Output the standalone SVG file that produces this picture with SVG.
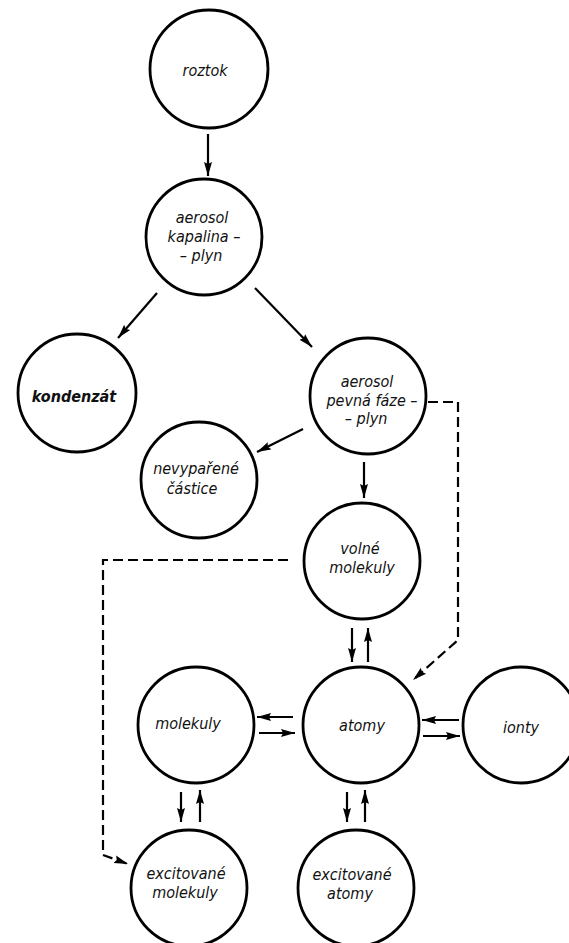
<svg xmlns="http://www.w3.org/2000/svg" width="569" height="943" viewBox="0 0 569 943">
<defs>
<marker id="ah" markerUnits="userSpaceOnUse" markerWidth="15" markerHeight="10" refX="14" refY="5" orient="auto">
<path d="M0,1 L14,5 L0,9 L2,5 Z" fill="#000"/>
</marker>
<style>
.n{fill:#fff;stroke:#000;stroke-width:2.8}
.t{font-family:"DejaVu Sans Condensed","DejaVu Sans",sans-serif;font-style:italic;font-size:16px;text-anchor:middle;fill:#111}
.b{font-weight:bold}
.a{fill:none;stroke:#000;stroke-width:2.2;marker-end:url(#ah)}
.d{fill:none;stroke:#000;stroke-width:2.2;stroke-dasharray:10,5;marker-end:url(#ah)}
</style>
</defs>
<rect width="569" height="943" fill="#fff"/>
<g id="connectors">
<path class="a" d="M208,134 L208,176"/>
<path class="a" d="M157,293 L118,338"/>
<path class="a" d="M255,288 L312,347"/>
<path class="a" d="M303,429 L257,452"/>
<path class="a" d="M364,462 L364,498"/>
<path class="a" d="M352,628 L352,662"/>
<path class="a" d="M368,662 L368,628"/>
<path class="a" d="M293,717 L257,717"/>
<path class="a" d="M259,733 L295,733"/>
<path class="a" d="M459,720 L422,720"/>
<path class="a" d="M423,736 L460,736"/>
<path class="a" d="M181,792 L181,822"/>
<path class="a" d="M200,822 L200,790"/>
<path class="a" d="M347,792 L347,822"/>
<path class="a" d="M365,822 L365,790"/>
<path class="d" d="M428,402 L458,402 L458,640 L413,680"/>
<path class="d" d="M288,560 L103,560 L103,855 L128,864"/>
</g>
<g id="roztok"><circle class="n" cx="209" cy="69" r="59"/><text class="t" x="205" y="76">roztok</text></g>
<g id="aerosol-kapalina"><circle class="n" cx="204" cy="237" r="58"/><text class="t" x="202" y="223">aerosol</text><text class="t" x="204" y="242">kapalina –</text><text class="t" x="201" y="261">– plyn</text></g>
<g id="kondenzat"><circle class="n" cx="77" cy="393" r="59"/><text class="t b" x="74" y="402">kondenzát</text></g>
<g id="aerosol-pevna"><circle class="n" cx="368" cy="396" r="58"/><text class="t" x="367" y="387">aerosol</text><text class="t" x="372" y="406">pevná fáze –</text><text class="t" x="366" y="424">– plyn</text></g>
<g id="nevyparene"><circle class="n" cx="199" cy="480" r="58"/><text class="t" x="196" y="474">nevypařené</text><text class="t" x="192" y="494">částice</text></g>
<g id="volne-molekuly"><circle class="n" cx="362" cy="561" r="58"/><text class="t" x="360" y="554">volné</text><text class="t" x="362" y="573">molekuly</text></g>
<g id="molekuly"><circle class="n" cx="196" cy="725" r="58"/><text class="t" x="188" y="729">molekuly</text></g>
<g id="atomy"><circle class="n" cx="361" cy="725" r="58"/><text class="t" x="362" y="731">atomy</text></g>
<g id="ionty"><circle class="n" cx="521" cy="725" r="58"/><text class="t" x="521" y="733">ionty</text></g>
<g id="excitovane-molekuly"><circle class="n" cx="189" cy="888" r="58"/><text class="t" x="186" y="879">excitované</text><text class="t" x="185" y="898">molekuly</text></g>
<g id="excitovane-atomy"><circle class="n" cx="356" cy="888" r="58"/><text class="t" x="352" y="880">excitované</text><text class="t" x="350" y="899">atomy</text></g>
</svg>
